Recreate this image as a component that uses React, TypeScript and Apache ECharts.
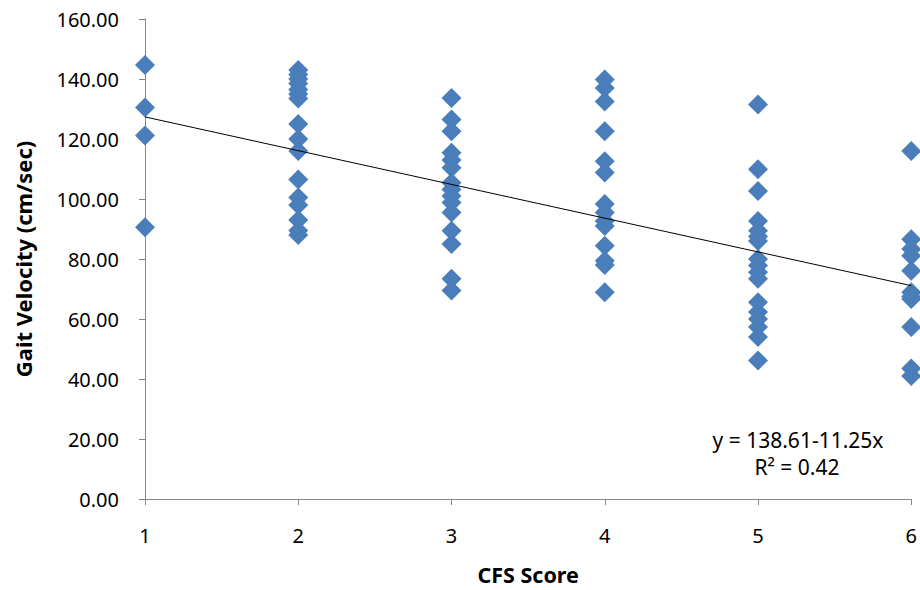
import React, { useEffect, useRef } from "react";
import * as echarts from "echarts";

const cfs1 = [144.7, 130.5, 121.2, 90.6];
const cfs2 = [143, 141.5, 140, 138.5, 136.5, 135, 133.5, 125, 120, 116, 106.5, 100.5, 98, 93, 89.5, 88];
const cfs3 = [133.7, 126.5, 122.6, 115.4, 113, 110.4, 105.4, 103.2, 101, 98.8, 95.5, 89.4, 85, 73.4, 69.5];
const cfs4 = [139.8, 137, 132.5, 122.6, 112.6, 108.8, 98.3, 95.5, 92.7, 91, 84.4, 79.4, 78, 68.9];
const cfs5 = [131.5, 109.9, 102.7, 92.7, 89.4, 87.5, 86, 80, 77.8, 75.6, 73.4, 65.6, 62.3, 60, 57.3, 54, 46.2];
const cfs6 = [116, 86.6, 83.3, 81.1, 76.1, 68.9, 67.5, 66.7, 57.3, 43.5, 41];
const scoreGroups = [cfs1, cfs2, cfs3, cfs4, cfs5, cfs6];
const scores = [1, 2, 3, 4, 5, 6];
const intercept = 138.61;
const slope = -11.25;
const equationText = "y = 138.61-11.25x";
const r2Text = "R² = 0.42";

const FONT = "'Noto Sans', 'Open Sans', sans-serif";

export default function App() {
  const ref = useRef<HTMLDivElement>(null);
  useEffect(() => {
    if (!ref.current) return;
    const chart = echarts.init(ref.current, null, { renderer: "svg" });
    const points: number[][] = [];
    scoreGroups.forEach((g, i) => g.forEach((v) => points.push([scores[i], v])));
    const xMin = scores[0];
    const xMax = scores[scores.length - 1];
    const trend = [
      [xMin, intercept + slope * xMin],
      [xMax, intercept + slope * xMax],
    ];
    chart.setOption({
      animation: false,
      grid: { left: 145, right: 8, top: 19, bottom: 89 },
      xAxis: {
        type: "value",
        min: 1,
        max: 6,
        interval: 1,
        name: "CFS Score",
        nameLocation: "middle",
        nameGap: 64,
        nameTextStyle: { fontFamily: FONT, fontSize: 21.5, fontWeight: "bold", color: "#000" },
        axisLine: { lineStyle: { color: "#868686", width: 1 } },
        axisTick: { show: true, length: 6, lineStyle: { color: "#868686" } },
        axisLabel: { fontFamily: FONT, fontSize: 20, color: "#000", margin: 26 },
        splitLine: { show: false },
      },
      yAxis: {
        type: "value",
        min: 0,
        max: 160,
        interval: 20,
        name: "Gait Velocity (cm/sec)",
        nameLocation: "middle",
        nameGap: 111,
        nameTextStyle: { fontFamily: FONT, fontSize: 22, fontWeight: "bold", color: "#000" },
        axisLine: { show: true, lineStyle: { color: "#868686", width: 1 } },
        axisTick: { show: true, length: 6, lineStyle: { color: "#868686" } },
        axisLabel: {
          fontFamily: FONT,
          fontSize: 20,
          color: "#000",
          margin: 26,
          formatter: (v: number) => v.toFixed(2),
        },
        splitLine: { show: false },
      },
      series: [
        {
          type: "scatter",
          data: points,
          symbol: "diamond",
          symbolSize: 20,
          itemStyle: { color: "#4A7EBB", opacity: 1 },
          clip: false,
          z: 2,
        },
        {
          type: "line",
          data: trend,
          symbol: "none",
          lineStyle: { color: "#000", width: 1 },
          z: 3,
        },
      ],
      graphic: [
        {
          type: "text",
          x: 798,
          y: 440,
          style: {
            text: equationText,
            fontFamily: FONT,
            fontSize: 21,
            lineHeight: 22,
            fill: "#000",
            align: "center",
            verticalAlign: "middle",
          },
        },
        {
          type: "text",
          x: 797,
          y: 467,
          style: {
            text: r2Text,
            fontFamily: FONT,
            fontSize: 21,
            lineHeight: 22,
            fill: "#000",
            align: "center",
            verticalAlign: "middle",
          },
        },
      ],
    });
    return () => chart.dispose();
  }, []);
  return (
    <div
      ref={ref}
      style={{ position: "absolute", left: 0, top: 0, width: 920, height: 590, background: "#fff" }}
    />
  );
}
